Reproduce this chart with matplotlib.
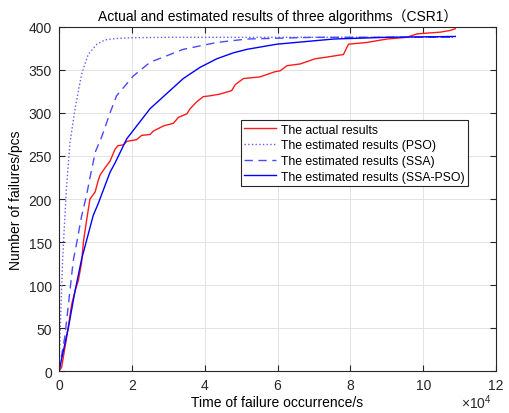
import numpy as np
import matplotlib
matplotlib.use("Agg")
from matplotlib import pyplot as plt
from matplotlib.ticker import FuncFormatter

plt.rcParams['font.family'] = ['Liberation Sans', 'Noto Sans CJK SC', 'DejaVu Sans']
plt.rcParams['mathtext.fontset'] = 'custom'
plt.rcParams['mathtext.rm'] = 'Liberation Sans'

# time in units of 1e4 s
t_actual = [0, 0.07, 0.21, 0.35, 0.44, 0.53, 0.62, 0.67, 0.76, 0.85, 0.99, 1.08, 1.13,
            1.26, 1.40, 1.54, 1.62, 1.77, 1.86, 2.13, 2.27, 2.50, 2.59, 2.87, 3.14,
            3.28, 3.51, 3.60, 3.78, 3.96, 4.15, 4.42, 4.74, 4.84, 5.06, 5.52, 5.93,
            6.07, 6.26, 6.62, 7.03, 7.35, 7.81, 7.90, 7.95, 8.45, 9.00, 9.55, 9.83,
            10.47, 10.74, 10.88]
n_actual = [0, 4, 39, 78, 93, 105, 126, 150, 176, 200, 208, 222, 228,
            236, 244, 258, 262, 263, 267, 269, 274, 275, 279, 285, 288,
            295, 299, 305, 313, 319, 320, 322, 326, 333, 340, 342, 348,
            349, 355, 357, 363, 365, 368, 376, 380, 382, 386, 388, 392,
            394, 396, 398]

t_pso = [0, 0.05, 0.10, 0.20, 0.30, 0.44, 0.62, 0.80, 1.04, 1.26, 1.54, 2.0, 3.0, 10.88]
n_pso = [0, 70, 130, 210, 265, 305, 345, 368, 380, 385, 386.5, 387.5, 388, 388]

t_ssa = [0, 0.16, 0.26, 0.39, 0.49, 0.62, 0.76, 0.85, 1.0, 1.17, 1.40, 1.58, 2.04, 2.5,
         3.41, 4.33, 5.16, 7.0, 10.88]
n_ssa = [0, 40, 78, 128, 150, 180, 205, 225, 255, 272, 300, 320, 343, 359,
         374, 382, 386, 388, 388]

t_hyb = [0, 0.26, 0.44, 0.62, 0.94, 1.08, 1.40, 1.54, 1.86, 2.5, 3.41, 3.87, 4.33,
         4.79, 5.16, 5.98, 7.54, 9.0, 10.88]
n_hyb = [0, 51, 93, 130, 181, 195, 231, 242, 270, 305, 340, 353, 363,
         370, 374, 380, 386, 388, 389]

fig = plt.figure(figsize=(5.1, 4.14), dpi=100)
ax = fig.add_axes([0.1157, 0.1014, 0.857, 0.831])

ax.plot(np.array(t_actual) * 1e4, n_actual, color='#ff1a1a', lw=1.0, label='The actual results')
ax.plot(np.array(t_pso) * 1e4, n_pso, color='#6060ff', lw=1.0, ls=':', label='The estimated results (PSO)')
ax.plot(np.array(t_ssa) * 1e4, n_ssa, color='#4a4aff', lw=1.0, ls=(0, (6, 4)), label='The estimated results (SSA)')
ax.plot(np.array(t_hyb) * 1e4, n_hyb, color='#0000ff', lw=1.0, label='The estimated results (SSA-PSO)')

ax.set_xlim(0, 12e4)
ax.set_ylim(0, 400)
ax.set_xticks(np.arange(0, 12.1e4, 2e4))
ax.set_yticks(np.arange(0, 401, 50))
ax.xaxis.set_major_formatter(FuncFormatter(lambda v, p: '%g' % (v / 1e4)))
ax.text(0.99, -0.062, r'$\times10^4$', transform=ax.transAxes, ha='right', va='top',
        fontsize=10, color='#262626')

ax.grid(True, color='#e3e3e3', lw=0.7)
ax.tick_params(direction='in', top=True, right=True, labelsize=10, length=4, width=0.8,
               colors='#262626', pad=5)
for s in ax.spines.values():
    s.set_linewidth(0.8)
    s.set_color('#262626')

ax.set_title('Actual and estimated results of three algorithms（CSR1）', fontsize=10, pad=5)
ax.set_xlabel('Time of failure occurrence/s', fontsize=10, labelpad=2)
ax.set_ylabel('Number of failures/pcs', fontsize=10, labelpad=4)

leg = ax.legend(loc='upper left', bbox_to_anchor=(0.416, 0.73), borderaxespad=0, fontsize=8.8,
                fancybox=False, edgecolor='#262626', framealpha=1, handlelength=2.6,
                borderpad=0.3, labelspacing=0.3, handletextpad=0.4)
leg.get_frame().set_linewidth(0.8)

fig.savefig('out.png', dpi=100)
